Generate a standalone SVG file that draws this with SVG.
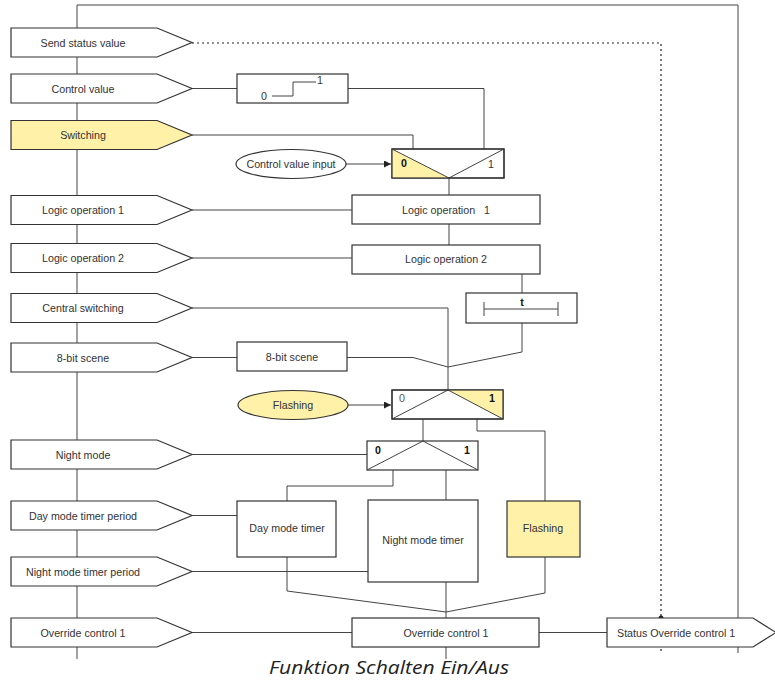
<svg xmlns="http://www.w3.org/2000/svg" width="775" height="681" viewBox="0 0 775 681">
<style>
.ln{fill:none;stroke:#444;stroke-width:1}
.dot{fill:none;stroke:#222;stroke-width:1.2;stroke-dasharray:2,3}
.bx{fill:#fff;stroke:#333;stroke-width:1.2}
.yl{fill:#fff1a8;stroke:#333;stroke-width:1.2}
.pt{fill:#fff;stroke:#333;stroke-width:1.2}
.t{font-family:"Liberation Sans",Arial,sans-serif;font-size:10.7px;fill:#333;text-anchor:middle;dominant-baseline:central}
.b{font-weight:bold;fill:#111}
.cap{font-family:"Open Sans","Liberation Sans",sans-serif;font-style:italic;font-size:19px;fill:#222;text-anchor:middle}
</style>
<defs>
<marker id="ar" viewBox="0 0 10 10" refX="10" refY="5" markerWidth="7" markerHeight="7" orient="auto" markerUnits="userSpaceOnUse"><path d="M0,0 L10,5 L0,10 z" fill="#222"/></marker>
<polygon id="pent" points="11,-14.5 157,-14.5 192,0 157,14.5 11,14.5"/>
</defs>
<rect width="775" height="681" fill="#fff"/>
<g id="connectors">
<path class="ln" d="M77,5 V659 M77,5 H738 V653"/>
<path class="dot" d="M192,43 H661 V653"/>
<circle cx="661" cy="618" r="2.5" fill="#222"/>
<path class="ln" d="M192,88.5 H237 M348,88.5 H484 V149"/>
<path class="ln" d="M192,135 H413 V149"/>
<path class="ln" d="M346,164 H391" marker-end="url(#ar)"/>
<path class="ln" d="M449,178 V195"/>
<path class="ln" d="M192,210 H352"/>
<path class="ln" d="M449,224 V245"/>
<path class="ln" d="M192,258 H352"/>
<path class="ln" d="M522,274 V293"/>
<path class="ln" d="M192,308 H448 V390"/>
<path class="ln" d="M192,357.5 H237 M347,357.5 H413 L448,367"/>
<path class="ln" d="M522,323 V352 L448,367"/>
<path class="ln" d="M348,405 H391" marker-end="url(#ar)"/>
<path class="ln" d="M423,419 V441"/>
<path class="ln" d="M477,419 V431 H545 V501"/>
<path class="ln" d="M192,454.5 H367"/>
<path class="ln" d="M393,470 V486 H287 V501"/>
<path class="ln" d="M446,470 V500"/>
<path class="ln" d="M192,515.5 H237"/>
<path class="ln" d="M192,571.5 H368"/>
<path class="ln" d="M287,557 V591 L446,612"/>
<path class="ln" d="M446,582 V618"/>
<path class="ln" d="M545,557 V593 L446,612"/>
<path class="ln" d="M192,632.5 H352 M539,632.5 H607"/>
<path class="ln" d="M446,647 V659"/>
</g>
<g id="in-send-status"><use href="#pent" class="pt" y="42.5"/><text class="t" x="83" y="42.5">Send status value</text></g>
<g id="in-control-value"><use href="#pent" class="pt" y="88.5"/><text class="t" x="83" y="88.5">Control value</text></g>
<g id="in-switching"><use href="#pent" class="yl" y="135"/><text class="t" x="83" y="135">Switching</text></g>
<g id="in-logic1"><use href="#pent" class="pt" y="210"/><text class="t" x="83" y="210">Logic operation 1</text></g>
<g id="in-logic2"><use href="#pent" class="pt" y="258"/><text class="t" x="83" y="258">Logic operation 2</text></g>
<g id="in-central"><use href="#pent" class="pt" y="308"/><text class="t" x="83" y="308">Central switching</text></g>
<g id="in-scene"><use href="#pent" class="pt" y="357.5"/><text class="t" x="83" y="357.5">8-bit scene</text></g>
<g id="in-night-mode"><use href="#pent" class="pt" y="454.5"/><text class="t" x="83" y="454.5">Night mode</text></g>
<g id="in-day-period"><use href="#pent" class="pt" y="515.5"/><text class="t" x="83" y="515.5">Day mode timer period</text></g>
<g id="in-night-period"><use href="#pent" class="pt" y="571.5"/><text class="t" x="83" y="571.5">Night mode timer period</text></g>
<g id="in-override"><use href="#pent" class="pt" y="632.5"/><text class="t" x="83" y="632.5">Override control 1</text></g>
<g id="control-value-box">
<rect class="bx" x="237" y="74" width="111" height="29"/>
<path class="ln" d="M272,96 H293 V82 H316"/>
<text class="t" x="264" y="96">0</text><text class="t" x="320" y="80">1</text>
</g>
<g id="control-value-input"><ellipse class="bx" cx="291" cy="164" rx="55" ry="14.5"/><text class="t" x="291" y="164">Control value input</text></g>
<g id="switch1">
<rect class="bx" x="392" y="149" width="112" height="29"/>
<polygon points="392,149 449,178 392,178" fill="#fff1a8"/>
<path class="ln" d="M392,149 L449,178 L504,149"/>
<rect x="392" y="149" width="112" height="29" fill="none" stroke="#333" stroke-width="1.2"/>
<text class="t b" x="404" y="163">0</text><text class="t" x="491" y="164">1</text>
</g>
<g id="logic1"><rect class="bx" x="352" y="195" width="188" height="29"/><text class="t" x="446" y="210" style="white-space:pre" xml:space="preserve">Logic operation   1</text></g>
<g id="logic2"><rect class="bx" x="352" y="245" width="188" height="29"/><text class="t" x="446" y="259">Logic operation 2</text></g>
<g id="timer-t">
<rect class="bx" x="466" y="293" width="111" height="30"/>
<path class="ln" d="M484,309 H558 M484,302 V316 M558,302 V316"/>
<text class="t b" x="522" y="302">t</text>
</g>
<g id="scene-box"><rect class="bx" x="237" y="342" width="110" height="29"/><text class="t" x="292" y="357">8-bit scene</text></g>
<g id="flashing-input"><ellipse cx="293" cy="405" rx="55" ry="14.5" fill="#fff1a8" stroke="#333" stroke-width="1.2"/><text class="t" x="293" y="405">Flashing</text></g>
<g id="switch2">
<rect class="bx" x="392" y="390" width="111" height="29"/>
<polygon points="448,390 503,390 503,419" fill="#fff1a8"/>
<path class="ln" d="M392,419 L448,390 L503,419"/>
<rect x="392" y="390" width="111" height="29" fill="none" stroke="#333" stroke-width="1.2"/>
<text class="t" x="402" y="398" style="fill:#555">0</text><text class="t b" x="492" y="398">1</text>
</g>
<g id="switch3">
<rect class="bx" x="367" y="441" width="111" height="29"/>
<path class="ln" d="M367,470 L423,441 L478,470"/>
<text class="t b" x="378" y="450">0</text><text class="t b" x="467" y="450">1</text>
</g>
<g id="day-timer"><rect class="bx" x="237" y="501" width="99" height="56"/><text class="t" x="287" y="528">Day mode timer</text></g>
<g id="night-timer"><rect class="bx" x="368" y="500" width="110" height="82"/><text class="t" x="423" y="540">Night mode timer</text></g>
<g id="flashing-box"><rect class="yl" x="507" y="501" width="73" height="56"/><text class="t" x="543" y="528">Flashing</text></g>
<g id="override-box"><rect class="bx" x="352" y="618" width="187" height="29"/><text class="t" x="446" y="632.5">Override control 1</text></g>
<g id="status-override"><polygon class="pt" points="607,618 753,618 776,632.5 753,647 607,647"/><text class="t" x="617" y="632.5" style="text-anchor:start">Status Override control 1</text></g>
<text class="cap" x="389" y="674" textLength="240" lengthAdjust="spacingAndGlyphs">Funktion Schalten Ein/Aus</text>
</svg>
